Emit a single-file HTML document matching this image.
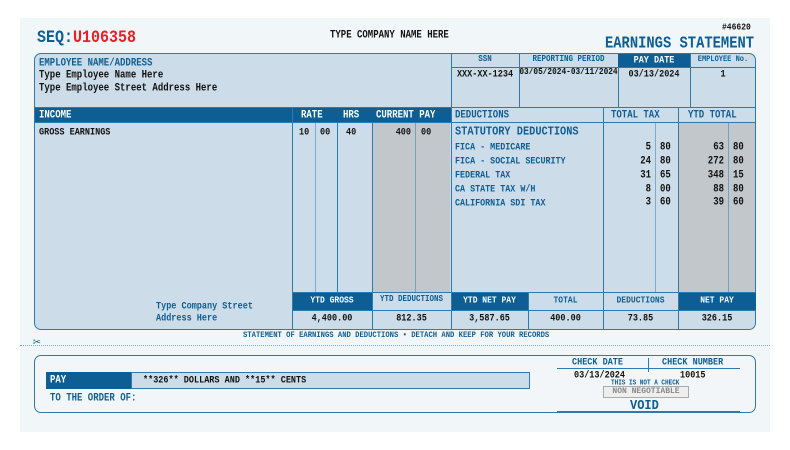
<!DOCTYPE html>
<html><head><meta charset="utf-8"><style>
*{margin:0;padding:0;box-sizing:border-box}
body{width:790px;height:450px;background:#fff;position:relative;overflow:hidden;font-family:"Liberation Mono",monospace;font-weight:bold;color:#111}
.a{position:absolute}
.pg{left:20px;top:18px;width:750px;height:414px;background:#f1f6f9}
.bl{background:#d6e4ee;background-image:radial-gradient(#b3cadb 0.7px,transparent 0.8px);background-size:2px 2px}
.gr{background:#cfd3d6;background-image:radial-gradient(#a3aab0 0.7px,transparent 0.8px);background-size:2px 2px}
.dk{background:#0d5e95;color:#fff}
.vl{width:1px;background:#2f7aad}
.hl{height:1px;background:#2f7aad}
.t{white-space:nowrap;line-height:1;transform:scaleY(1.18);transform-origin:0 40%}
.b{color:#0d5e95}
.c{text-align:center}
.r{text-align:right}
.n{font-size:9px;line-height:11.86px!important;transform-origin:0 0!important}
</style></head><body>
<div class="a pg"></div>
<div class="a t" style="left:37px;top:30px;font-size:15px;color:#0d5e95">SEQ:<span style="color:#e8202a">U106358</span></div>
<div class="a t" style="left:330px;top:31px;font-size:9px">TYPE COMPANY NAME HERE</div>
<div class="a t" style="left:722px;top:24px;font-size:8px">#46620</div>
<div class="a t b" style="left:605px;top:38px;font-size:13.8px">EARNINGS STATEMENT</div>

<div class="a bl" style="left:34px;top:53px;width:722px;height:277px;border:1px solid #2f7aad;border-radius:7px;overflow:hidden">
 <div class="a gr" style="left:337px;top:68px;width:78px;height:170px"></div>
 <div class="a gr" style="left:643px;top:68px;width:78px;height:170px"></div>
</div>
<div class="a t b" style="left:39px;top:59px;font-size:9px">EMPLOYEE NAME/ADDRESS</div>
<div class="a t" style="left:39px;top:71px;font-size:9px">Type Employee Name Here</div>
<div class="a t" style="left:39px;top:84px;font-size:9px">Type Employee Street Address Here</div>
<div class="a vl" style="left:451px;top:54px;height:53px"></div>
<div class="a vl" style="left:519px;top:54px;height:53px"></div>
<div class="a vl" style="left:618px;top:54px;height:53px"></div>
<div class="a vl" style="left:690px;top:54px;height:53px"></div>
<div class="a hl" style="left:451px;top:67px;width:305px"></div>
<div class="a dk" style="left:618px;top:54px;width:72px;height:13px"></div>
<div class="a t b c" style="left:451px;top:57px;width:68px;font-size:7.5px">SSN</div>
<div class="a t b c" style="left:519px;top:57px;width:99px;font-size:7.5px">REPORTING PERIOD</div>
<div class="a t c" style="left:618px;top:56px;width:72px;font-size:8.5px;color:#fff">PAY DATE</div>
<div class="a t b c" style="left:690px;top:57px;width:66px;font-size:7px">EMPLOYEE No.</div>
<div class="a t c" style="left:451px;top:70px;width:68px;font-size:8.5px">XXX-XX-1234</div>
<div class="a t c" style="left:519px;top:70px;width:99px;font-size:7.8px">03/05/2024-03/11/2024</div>
<div class="a t c" style="left:618px;top:70px;width:72px;font-size:8.5px">03/13/2024</div>
<div class="a t c" style="left:690px;top:70px;width:66px;font-size:8.5px">1</div>
<div class="a hl" style="left:34px;top:107px;width:722px"></div>
<div class="a dk" style="left:35px;top:108px;width:416px;height:14px"></div>
<div class="a hl" style="left:34px;top:122px;width:722px"></div>
<div class="a t" style="left:39px;top:111px;font-size:9px;color:#fff">INCOME</div>
<div class="a t" style="left:301px;top:111px;font-size:9px;color:#fff">RATE</div>
<div class="a t" style="left:343px;top:111px;font-size:9px;color:#fff">HRS</div>
<div class="a t" style="left:376px;top:111px;font-size:9px;color:#fff">CURRENT PAY</div>
<div class="a t b" style="left:455px;top:111px;font-size:9px">DEDUCTIONS</div>
<div class="a t b" style="left:611px;top:111px;font-size:9px">TOTAL TAX</div>
<div class="a t b" style="left:688px;top:111px;font-size:9px">YTD TOTAL</div>
<div class="a vl" style="left:292px;top:108px;height:222px"></div>
<div class="a vl" style="left:315px;top:123px;height:169px;opacity:.5"></div>
<div class="a vl" style="left:337px;top:123px;height:169px"></div>
<div class="a vl" style="left:372px;top:123px;height:207px"></div>
<div class="a vl" style="left:415px;top:123px;height:169px;opacity:.5"></div>
<div class="a vl" style="left:451px;top:107px;height:223px"></div>
<div class="a vl" style="left:603px;top:107px;height:223px"></div>
<div class="a vl" style="left:655px;top:123px;height:169px;opacity:.5"></div>
<div class="a vl" style="left:678px;top:107px;height:223px"></div>
<div class="a vl" style="left:728px;top:123px;height:169px;opacity:.5"></div>
<div class="a t" style="left:39px;top:128px;font-size:8.5px">GROSS EARNINGS</div>
<div class="a t" style="left:299px;top:128px;font-size:8.5px">10</div>
<div class="a t" style="left:320px;top:128px;font-size:8.5px">00</div>
<div class="a t" style="left:346px;top:128px;font-size:8.5px">40</div>
<div class="a t r" style="left:380px;top:128px;width:31px;font-size:8.5px">400</div>
<div class="a t" style="left:421px;top:128px;font-size:8.5px">00</div>
<div class="a t b" style="left:455px;top:127px;font-size:10.3px">STATUTORY DEDUCTIONS</div>
<div class="a t b" style="left:455px;top:143px;font-size:8.4px">FICA - MEDICARE</div>
<div class="a t b" style="left:455px;top:157px;font-size:8.4px">FICA - SOCIAL SECURITY</div>
<div class="a t b" style="left:455px;top:171px;font-size:8.4px">FEDERAL TAX</div>
<div class="a t b" style="left:455px;top:185px;font-size:8.4px">CA STATE TAX W/H</div>
<div class="a t b" style="left:455px;top:199px;font-size:8.4px">CALIFORNIA SDI TAX</div>
<div class="a t r n" style="left:610px;top:141px;width:41px">5<br>24<br>31<br>8<br>3</div>
<div class="a t n" style="left:660px;top:141px">80<br>80<br>65<br>00<br>60</div>
<div class="a t r n" style="left:684px;top:141px;width:40px">63<br>272<br>348<br>88<br>39</div>
<div class="a t n" style="left:733px;top:141px">80<br>80<br>15<br>80<br>60</div>
<div class="a hl" style="left:292px;top:292px;width:464px"></div>
<div class="a hl" style="left:292px;top:310px;width:464px"></div>
<div class="a vl" style="left:528px;top:292px;height:38px"></div>
<div class="a dk" style="left:293px;top:293px;width:79px;height:17px"></div>
<div class="a dk" style="left:452px;top:293px;width:76px;height:17px"></div>
<div class="a dk" style="left:679px;top:293px;width:77px;height:17px"></div>
<div class="a t c" style="left:292px;top:297px;width:80px;font-size:8px;color:#fff">YTD GROSS</div>
<div class="a t c b" style="left:372px;top:297px;width:79px;font-size:7.5px">YTD DEDUCTIONS</div>
<div class="a t c" style="left:451px;top:297px;width:77px;font-size:8px;color:#fff">YTD NET PAY</div>
<div class="a t c b" style="left:528px;top:297px;width:75px;font-size:8px">TOTAL</div>
<div class="a t c b" style="left:603px;top:297px;width:75px;font-size:8px">DEDUCTIONS</div>
<div class="a t c" style="left:678px;top:297px;width:78px;font-size:8px;color:#fff">NET PAY</div>
<div class="a t c" style="left:292px;top:314px;width:80px;font-size:8.5px">4,400.00</div>
<div class="a t c" style="left:372px;top:314px;width:79px;font-size:8.5px">812.35</div>
<div class="a t c" style="left:451px;top:314px;width:77px;font-size:8.5px">3,587.65</div>
<div class="a t c" style="left:528px;top:314px;width:75px;font-size:8.5px">400.00</div>
<div class="a t c" style="left:603px;top:314px;width:75px;font-size:8.5px">73.85</div>
<div class="a t c" style="left:678px;top:314px;width:78px;font-size:8.5px">326.15</div>
<div class="a t b" style="left:156px;top:302px;font-size:8.5px">Type Company Street</div>
<div class="a t b" style="left:156px;top:314px;font-size:8.5px">Address Here</div>

<div class="a t b" style="left:243px;top:333px;font-size:7.2px">STATEMENT OF EARNINGS AND DEDUCTIONS • DETACH AND KEEP FOR YOUR RECORDS</div>
<div class="a" style="left:20px;top:345px;width:750px;border-top:1px dotted #7fa9c7"></div>
<div class="a b" style="left:33px;top:336px;font-size:13px;line-height:1">✂</div>

<div class="a" style="left:34px;top:355px;width:722px;height:58px;border:1px solid #2f7aad;border-radius:7px;background:#f3f6f8"></div>
<div class="a dk" style="left:46px;top:372px;width:85px;height:17px"></div>
<div class="a t" style="left:50px;top:376px;font-size:9px;color:#fff">PAY</div>
<div class="a bl" style="left:131px;top:372px;width:399px;height:17px;border:1px solid #2f7aad"></div>
<div class="a t" style="left:143px;top:376px;font-size:8.5px">**326** DOLLARS AND **15** CENTS</div>
<div class="a t b" style="left:50px;top:394px;font-size:9px">TO THE ORDER OF:</div>
<div class="a t b" style="left:572px;top:358px;font-size:8.5px">CHECK DATE</div>
<div class="a t b" style="left:662px;top:358px;font-size:8.5px">CHECK NUMBER</div>
<div class="a vl" style="left:648px;top:358px;height:14px"></div>
<div class="a hl" style="left:557px;top:368px;width:183px"></div>
<div class="a t" style="left:574px;top:371px;font-size:8.5px">03/13/2024</div>
<div class="a t" style="left:680px;top:371px;font-size:8.5px">10015</div>
<div class="a t b" style="left:611px;top:380px;font-size:6px">THIS IS NOT A CHECK</div>
<div class="a c" style="left:603px;top:386px;width:86px;height:12px;border:1px solid #aaa;background:#eee;color:#888;font-size:8px;line-height:10px;white-space:nowrap">NON NEGOTIABLE</div>
<div class="a t b" style="left:630px;top:399px;font-size:12px">VOID</div>
<div class="a" style="left:557px;top:411px;width:183px;height:2px;background:#2f7aad"></div>
</body></html>
